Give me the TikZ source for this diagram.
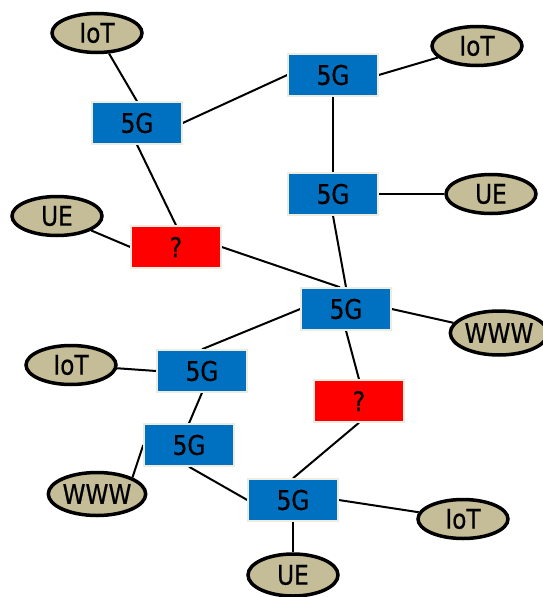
\documentclass[tikz,border=0pt]{standalone}
\usepackage{fontspec}
\setmainfont[FakeStretch=0.86,FakeBold=0.6]{DejaVu Sans}
\usetikzlibrary{shapes.geometric,backgrounds}
\definecolor{fgblue}{HTML}{0070C0}
\definecolor{fgred}{HTML}{FF0000}
\definecolor{tan}{HTML}{C4BD97}
\definecolor{rim}{HTML}{EEECE1}
\tikzset{
  x=1pt,y=-1pt,
  netbox/.style={rectangle,draw=rim,line width=1.5pt,fill=fgblue,minimum width=90pt,minimum height=42pt,inner sep=0pt,font=\fontsize{27}{27}\selectfont},
  qbox/.style={netbox,fill=fgred},
  endpt/.style={ellipse,draw=black,line width=3.5pt,fill=tan,minimum width=90pt,minimum height=39pt,inner sep=0pt,font=\fontsize{27}{27}\selectfont},
  link/.style={line width=2pt,black}
}
\begin{document}
\begin{tikzpicture}
\useasboundingbox (0,0) rectangle (543,597);
\node[endpt] (iot1) at (97,33) {IoT};
\node[netbox] (g1) at (137,123) {5G};
\node[netbox] (g2) at (333,75) {5G};
\node[endpt] (iot2) at (477,46) {IoT};
\node[netbox] (g3) at (333,194) {5G};
\node[endpt] (ue1) at (491,194) {UE};
\node[endpt] (ue2) at (57,216) {UE};
\node[qbox] (q1) at (176,247) {?};
\node[netbox] (g4) at (346,309) {5G};
\node[endpt,minimum width=84pt,minimum height=44pt] (www1) at (499,333) {WWW};
\node[endpt] (iot3) at (71,365) {IoT};
\node[netbox] (g5) at (202,371) {5G};
\node[qbox] (q2) at (359,401) {?};
\node[netbox] (g6) at (189,445) {5G};
\node[endpt,minimum width=90pt,minimum height=43pt] (www2) at (97,494) {WWW};
\node[netbox] (g7) at (293,500) {5G};
\node[endpt] (iot4) at (463,519) {IoT};
\node[endpt,minimum height=42pt] (ue3) at (293,575) {UE};
\begin{scope}[on background layer]
\draw[link] (iot1) -- (g1.north);
\draw[link] (g1.east) -- (g2.west);
\draw[link] (g1.south) -- (q1.north);
\draw[link] (g2.east) -- (iot2);
\draw[link] (g2.south) -- (g3.north);
\draw[link] (g3.east) -- (ue1);
\draw[link] (g3.south) -- (g4.north);
\draw[link] (ue2) -- (q1.west);
\draw[link] (q1.east) -- ([xshift=-6pt]g4.north);
\draw[link] (g4.east) -- (www1);
\draw[link] (g4.west) -- (g5.north);
\draw[link] (g4.south) -- (q2.north);
\draw[link] (iot3) -- (g5.west);
\draw[link] (g5.south) -- (g6.north);
\draw[link] (g6.west) -- (www2.25);
\draw[link] (g6.south) -- (g7.west);
\draw[link] (q2.south) -- (g7.north);
\draw[link] (g7.east) -- (iot4);
\draw[link] (g7.south) -- (ue3);
\end{scope}
\end{tikzpicture}
\end{document}
